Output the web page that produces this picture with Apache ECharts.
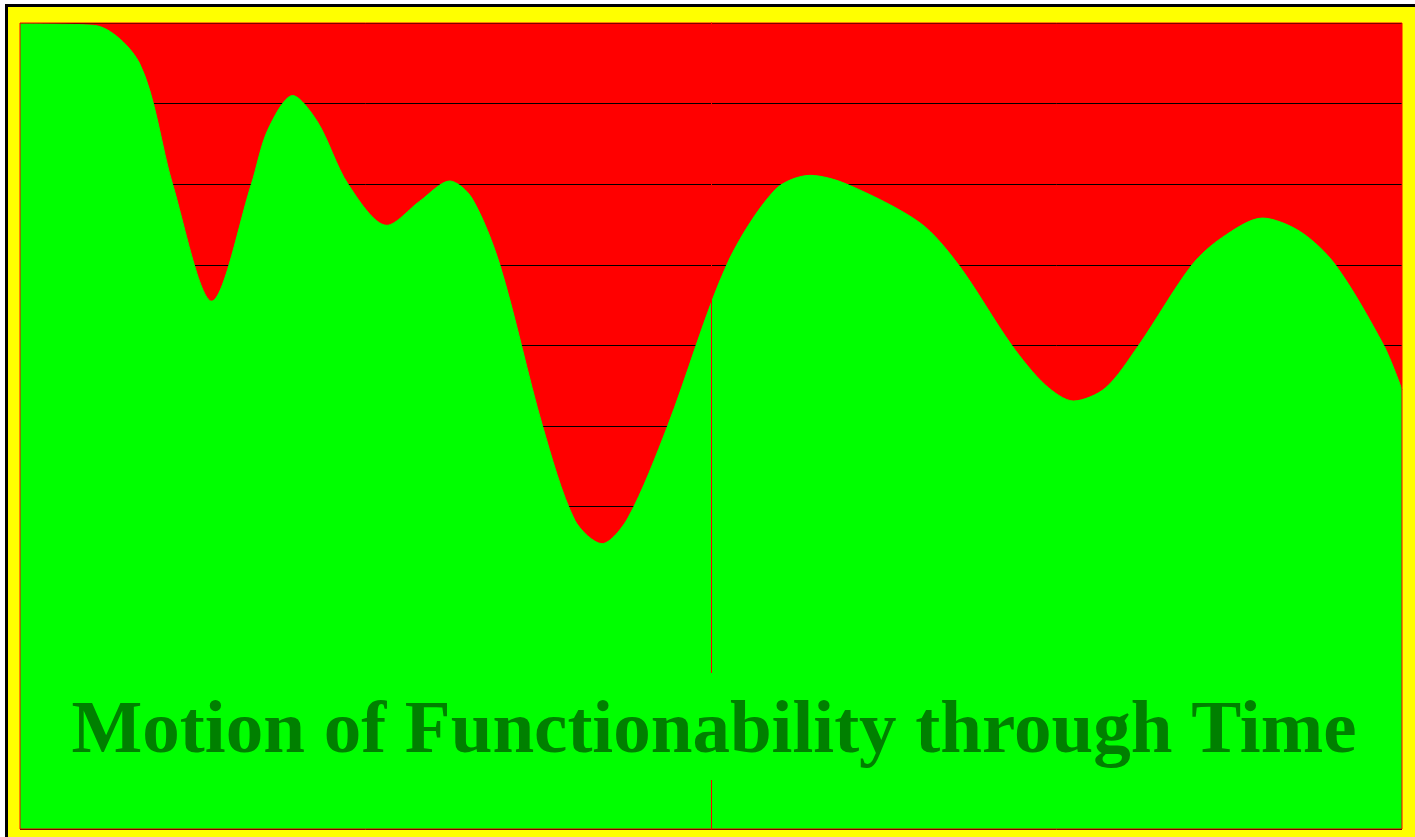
<!DOCTYPE html>
<html>
<head>
<meta charset="utf-8">
<script src="https://cdn.jsdelivr.net/npm/echarts@6/dist/echarts.min.js"></script>
<style>
  html, body { margin: 0; padding: 0; background: #ffffff; overflow: hidden; width: 1415px; height: 837px; }
  #frame { position: absolute; left: 5px; top: 4px; border: 3px solid #000000; background: #ffff00; }
  #chart { width: 1412px; height: 840px; }
</style>
</head>
<body>
<div id="frame"><div id="chart"></div></div>
<script>
// Data
const titleText = 'Motion of Functionability through Time';
const xValues = [-50, -44.61, -41.35, -38.96, -36.13, -33.26, -32.08, -30.27, -28.46, -26.26, -23.46, -21.07, -18.90, -17.31, -15.28, -12.19, -9.85, -7.89, -6.01, -3.14, 1.14, 4.63, 7.17, 9.83, 15.13, 17.91, 21.77, 24.19, 26.23, 28.53, 30.94, 34.81, 37.00, 39.90, 42.65, 45.18, 48.68, 50];
const yValues = [99.9, 99.7, 95.0, 80, 65.5, 80, 86.7, 91.0, 87.7, 80, 74.9, 77.9, 80.4, 78.3, 70, 50, 38.3, 35.4, 38.6, 50, 70, 79.3, 81.1, 80, 75.2, 70, 60, 55.1, 53.1, 54.7, 60, 70, 73.4, 75.8, 74.1, 70, 60, 54.5];
const yMin = 0, yMax = 100, yInterval = 10;
const xMin = -50, xMax = 50;

const seriesData = xValues.map((x, i) => [x, yValues[i]]);

const chart = echarts.init(document.getElementById('chart'), null, { renderer: 'canvas' });
const gridBox = { left: 12, top: 16, width: 1382, height: 806 };
chart.setOption({
  animation: false,
  backgroundColor: '#ffff00',
  title: {
    text: titleText,
    left: 'center',
    top: 666,
    padding: [22, 10, 10, 10],
    backgroundColor: '#00ff00',
    textStyle: {
      fontFamily: '"Liberation Serif", "Times New Roman", serif',
      fontWeight: 'bold',
      fontSize: 75,
      lineHeight: 75,
      color: '#008000'
    }
  },
  grid: [
    Object.assign({ show: true, backgroundColor: '#ff0000', borderWidth: 0, z: 0 }, gridBox),
    Object.assign({ show: true, backgroundColor: 'transparent', borderColor: '#ff0000', borderWidth: 1, z: 3 }, gridBox)
  ],
  xAxis: [
    { type: 'value', gridIndex: 0, min: xMin, max: xMax, z: 3,
      axisLine: { show: false }, axisTick: { show: false }, axisLabel: { show: false }, splitLine: { show: false } },
    { type: 'value', gridIndex: 1, min: xMin, max: xMax, show: false }
  ],
  yAxis: [
    { type: 'value', gridIndex: 0, min: yMin, max: yMax, interval: yInterval, z: 0,
      axisLine: { show: false, onZero: false }, axisTick: { show: false }, axisLabel: { show: false },
      splitLine: { show: true, lineStyle: { color: '#000000', width: 1 } } },
    { type: 'value', gridIndex: 0, min: yMin, max: yMax, interval: yInterval, z: 3, position: 'left',
      axisLine: { show: true, onZero: true, onZeroAxisIndex: 0, lineStyle: { color: '#ff0000', width: 1 } },
      axisTick: { show: false }, axisLabel: { show: false }, splitLine: { show: false } },
    { type: 'value', gridIndex: 1, min: yMin, max: yMax, show: false }
  ],
  series: [{
    type: 'line',
    xAxisIndex: 0,
    yAxisIndex: 0,
    data: seriesData,
    smooth: 0.3,
    showSymbol: false,
    symbol: 'none',
    lineStyle: { color: '#00ff00', width: 1 },
    areaStyle: { color: '#00ff00', opacity: 1 },
    z: 2
  }]
});
</script>
</body>
</html>
